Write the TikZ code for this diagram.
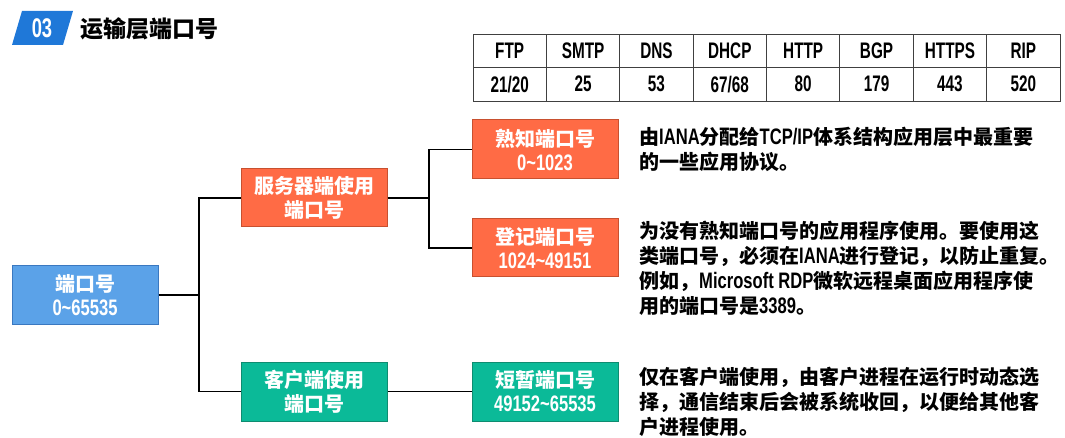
\documentclass[tikz,border=0pt]{standalone}
\usepackage{fontspec}
\usepackage{tikz}
\usetikzlibrary{positioning}
\newfontfamily\cjk{Noto Sans CJK SC}
\newfontfamily\nar{Liberation Sans}[FakeStretch=0.74, Scale=1.12]
\newfontfamily\narx{Liberation Sans}[FakeStretch=0.68]
\definecolor{portblue}{RGB}{91,162,232}
\definecolor{portline}{RGB}{58,120,192}
\definecolor{server}{RGB}{255,107,69}
\definecolor{serverline}{RGB}{200,80,47}
\definecolor{client}{RGB}{11,186,152}
\definecolor{clientline}{RGB}{14,140,112}
\definecolor{badge}{RGB}{31,120,216}
\newcommand\en[1]{{\nar\bfseries #1}}

\begin{document}
\begin{tikzpicture}[
  x=1pt, y=-1pt,
  box/.style={minimum width=146pt, minimum height=58pt, inner sep=0pt,
              align=center, text=white, line width=1pt,
              font=\cjk\bfseries\fontsize{20}{24}\selectfont},
  rootbox/.style={box, draw=portline, fill=portblue},
  srvbox/.style={box, draw=serverline, fill=server},
  clibox/.style={box, draw=clientline, fill=client},
  desc/.style={anchor=west, align=left, inner sep=0pt,
               font=\cjk\bfseries\fontsize{20}{25}\selectfont},
  cell/.style={draw=black!75, line width=0.8pt, minimum width=73.375pt,
               minimum height=33.5pt, inner sep=0pt,
               font=\narx\bfseries\fontsize{22.5}{24}\selectfont},
  link/.style={line width=1.6pt},
]
\useasboundingbox (0,0) rectangle (1065,438);

\fill[badge] (22,11) -- (73,11) -- (63,45) -- (12,45) -- cycle;
\node[text=white, font=\narx\bfseries\fontsize{27}{27}\selectfont] (badgenum) at (42,28) {03};
\node[anchor=west, inner sep=0pt, font=\cjk\bfseries\fontsize{23}{23}\selectfont] (title) at (80,29) {运输层端口号};

\foreach \proto/\port [count=\i] in {FTP/{21/20}, SMTP/25, DNS/53, DHCP/{67/68}, HTTP/80, BGP/179, HTTPS/443, RIP/520}{
  \node[cell] (proto\i) at ({473+73.375*(\i-0.5)},50.75) {\proto};
  \node[cell] (port\i) at ({473+73.375*(\i-0.5)},84.25) {\port};
}

\node[rootbox] (root) at (85,295) {端口号\\\en{0\textasciitilde 65535}};
\node[srvbox] (server) at (314,198) {服务器端使用\\端口号};
\node[clibox, minimum height=59pt] (client) at (314,391.5) {客户端使用\\端口号};
\node[srvbox, minimum height=59pt] (wellknown) at (545,149.5) {熟知端口号\\\en{0\textasciitilde 1023}};
\node[srvbox] (registered) at (545,248) {登记端口号\\\en{1024\textasciitilde 49151}};
\node[clibox, minimum height=59pt] (dynamic) at (545,391.5) {短暂端口号\\\en{49152\textasciitilde 65535}};

\coordinate (split1) at (199,295);
\coordinate (split2) at (429,198);
\draw[link] (root.east) -- (split1) |- (server.west);
\draw[link] (split1) |- (client.west);
\draw[link] (server.east) -- (split2) |- (wellknown.west);
\draw[link] (split2) |- (registered.west);
\draw[link] (client.east) -- (dynamic.west);

\node[desc] (descwk) at (639,149.5) {由\en{IANA}分配给\en{TCP/IP}体系结构应用层中最重要\\的一些应用协议。};
\node[desc] (descreg) at (639,268) {为没有熟知端口号的应用程序使用。要使用这\\类端口号，必须在\en{IANA}进行登记，以防止重复。\\例如，\en{Microsoft RDP}微软远程桌面应用程序使\\用的端口号是\en{3389}。};
\node[desc] (descdyn) at (639,402) {仅在客户端使用，由客户进程在运行时动态选\\择，通信结束后会被系统收回，以便给其他客\\户进程使用。};

\end{tikzpicture}
\end{document}
